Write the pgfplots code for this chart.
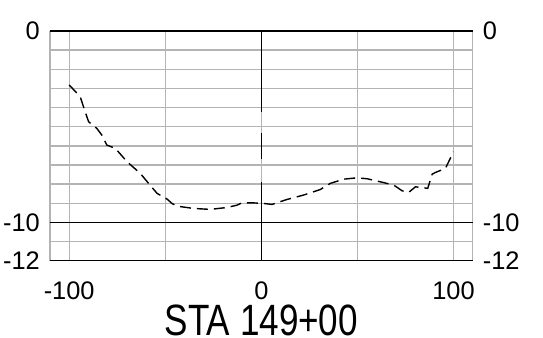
\documentclass[border=0pt]{standalone}
\usepackage{pgfplots}
\pgfplotsset{compat=1.18}
\usepackage{graphicx}
\usepackage{fontspec}
\setmainfont{Liberation Sans}
\definecolor{gridgray}{RGB}{180,180,180}
\pgfplotsset{
  common/.style={
    at={(50bp,77.3bp)}, anchor=south west,
    scale only axis, width=422.7bp, height=229.7bp,
    xmin=-110, xmax=110, ymin=-12, ymax=0,
    major tick length=0pt, minor tick length=0pt,
    axis line style={draw=none},
    tick style={draw=none},
    ticklabel style={font=\fontsize{25.5}{30}\selectfont, inner sep=0pt},
    /pgf/number format/assume math mode=true,
    clip=false,
  }
}
\begin{document}
\begin{tikzpicture}
\begin{axis}[common,
  xtick={-100,0,100}, minor xtick={-50,50},
  ytick={-12,-10,0}, minor ytick={-11,-9,-8,-7,-6,-5,-4,-3,-2,-1},
  grid=both,
  major grid style={gridgray, line width=1.4bp},
  minor grid style={gridgray, line width=1.4bp},
  xticklabel style={anchor=north, yshift=-21bp},
  yticklabel style={anchor=east, xshift=-10bp},
  no markers,
]
\addplot[gridgray, line width=1.4bp] coordinates {(-110,0) (-110,-12)};
\addplot[gridgray, line width=1.4bp] coordinates {(110,0) (110,-12)};
\addplot[black, line width=1.4bp] coordinates {(-110,0) (110,0)};
\addplot[black, line width=1.4bp] coordinates {(-110,-10) (110,-10)};
\addplot[black, line width=1.4bp] coordinates {(-110,-12) (110,-12)};
\addplot[black, line width=1.4bp, dash pattern=on 81bp off 21bp on 26bp off 23bp] coordinates {(0,0) (0,-12)};
\addplot[black, line width=1.4bp, dash pattern=on 11bp off 6bp] coordinates {
(-100,-2.82) (-94.3,-3.43) (-91.7,-4.22) (-89.9,-4.74) (-85.6,-5.09) (-83.0,-5.44)
(-80.4,-5.96) (-76.0,-6.13) (-69.9,-6.83) (-63.0,-7.44) (-58.7,-7.96) (-54.3,-8.48)
(-49.1,-8.78) (-46.5,-9.01) (-43.9,-9.15) (-35.3,-9.27) (-26.6,-9.32) (-17.9,-9.22)
(-12.7,-9.10) (-10.1,-8.98) (-4.0,-8.98) (1.2,-9.01) (5.6,-9.06) (13.4,-8.80)
(22.0,-8.57) (30.7,-8.28) (35.9,-7.96) (42.9,-7.74) (49.8,-7.67) (55.1,-7.72)
(62.0,-7.88) (68.9,-8.05) (73.3,-8.35) (76.7,-8.43) (80.2,-8.14) (86.6,-8.22)
(88.9,-7.48) (90.6,-7.39) (95.8,-7.18) (100,-6.31)
};
\node[anchor=north, inner sep=0pt, yshift=-43.5bp] at (rel axis cs:0.5,0) {\scalebox{0.8}[1]{\fontsize{44}{48}\selectfont STA 149+00}};
\end{axis}
\begin{axis}[common,
  xtick=\empty,
  ytick={-12,-10,0},
  yticklabel pos=right,
  yticklabel style={anchor=west, xshift=10bp},
]
\end{axis}
\pgfresetboundingbox
\useasboundingbox (0,0) rectangle (543bp,338bp);
\end{tikzpicture}
\end{document}
